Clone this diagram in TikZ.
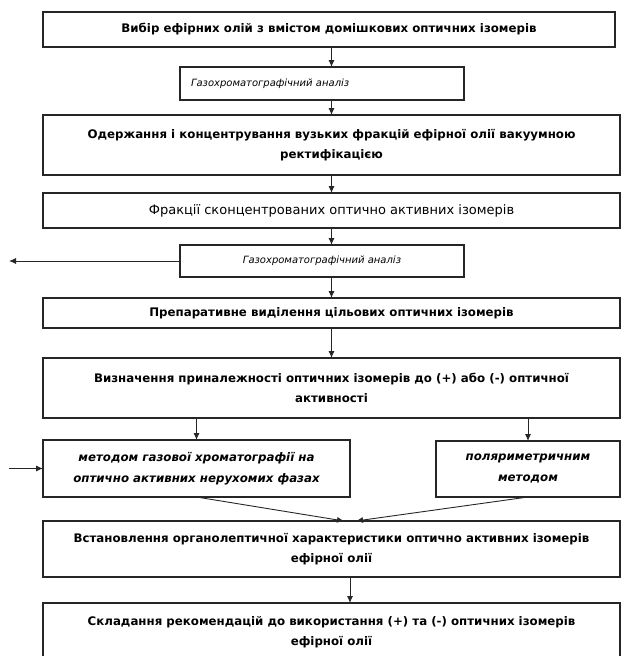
\documentclass[tikz,border=0pt]{standalone}
\usepackage{fontspec}
\setmainfont{DejaVu Sans}
\usetikzlibrary{positioning,arrows.meta}

\tikzset{
  stepbox/.style={draw=black!85,line width=1.1pt,outer sep=0pt,align=center,inner sep=2pt},
  widebox/.style={stepbox,minimum width=577pt,font=\bfseries\fontsize{11.8}{20}\selectfont},
  gcbox/.style={stepbox,minimum width=284pt,font=\itshape\fontsize{10}{20}\selectfont},
  methodbox/.style={stepbox,font=\bfseries\itshape\fontsize{11.8}{21}\selectfont},
  flow/.style={-{Latex[length=7pt,width=6pt]},line width=0.9pt,draw=black!85}
}

\begin{document}
\begin{tikzpicture}[node distance=20pt]
    \useasboundingbox (0,0) rectangle (621pt,-656pt);
    \node[widebox,minimum width=572pt,minimum height=35pt] (vybir) at (329pt,-29.5pt)
        {Вибір ефірних олій з вмістом домішкових оптичних ізомерів};
    \node[gcbox,minimum height=33pt,text width=262pt,align=left] (gx1) [below=20pt of vybir,xshift=-7pt]
        {Газохроматографічний аналіз};
    \node[widebox,minimum height=60pt] (vakuum) [below=15pt of gx1,xshift=9.5pt]
        {Одержання і концентрування вузьких фракцій ефірної олії вакуумною\\ректифікацією};
    \node[widebox,minimum height=35pt,font=\fontsize{13}{20}\selectfont] (frakcii) [below=18pt of vakuum]
        {Фракції сконцентрованих оптично активних ізомерів};
    \node[gcbox,minimum height=32pt] (gx2) [below=17pt of frakcii,xshift=-9.5pt]
        {Газохроматографічний аналіз};
    \node[widebox,minimum height=30pt] (prepar) [below=21pt of gx2,xshift=9.5pt]
        {Препаративне виділення цільових оптичних ізомерів};
    \node[widebox,minimum height=60pt] (vyznach) [below=30pt of prepar]
        {Визначення приналежності оптичних ізомерів до (+) або (-) оптичної\\активності};
    \node[methodbox,minimum width=307pt,minimum height=57pt,anchor=north west] (hrom) [below right=22pt and 0pt of vyznach.south west]
        {методом газової хроматографії на\\оптично активних нерухомих фазах};
    \node[methodbox,minimum width=184pt,minimum height=56pt,anchor=north east] (polyar) [below left=23pt and 0pt of vyznach.south east]
        {поляриметричним\\методом};
    \coordinate (mid) at (hrom.south -| vyznach);
    \node[widebox,minimum height=56pt] (vstan) [below=24pt of mid]
        {Встановлення органолептичної характеристики оптично активних ізомерів\\ефірної олії};
    \node[widebox,minimum height=58pt] (rekom) [below=26pt of vstan]
        {Складання рекомендацій до використання (+) та (-) оптичних ізомерів\\ефірної олії};

    \coordinate (join) at ([xshift=18.5pt]vstan.north);
    \coordinate (edge) at (9pt,0);

    \draw[flow] (vybir.south -| vakuum) -- (gx1.north -| vakuum);
    \draw[flow] (gx1.south -| vakuum) -- (vakuum.north);
    \draw[flow] (vakuum) -- (frakcii);
    \draw[flow] (frakcii.south) -- (gx2.north -| frakcii);
    \draw[flow] (gx2.south -| prepar) -- (prepar.north);
    \draw[flow] (prepar) -- (vyznach);
    \draw[flow] (vyznach.south -| hrom) -- (hrom);
    \draw[flow] (vyznach.south -| polyar) -- (polyar);
    \draw[flow] (hrom.south) -- ([xshift=-6pt]join);
    \draw[flow] (polyar.south) -- ([xshift=6pt]join);
    \draw[flow] (vstan.south -| join) -- (rekom.north -| join);
    \draw[flow] (gx2.west) -- (gx2.west -| edge);
    \draw[flow] (hrom.west -| edge) -- (hrom.west);
\end{tikzpicture}
\end{document}
